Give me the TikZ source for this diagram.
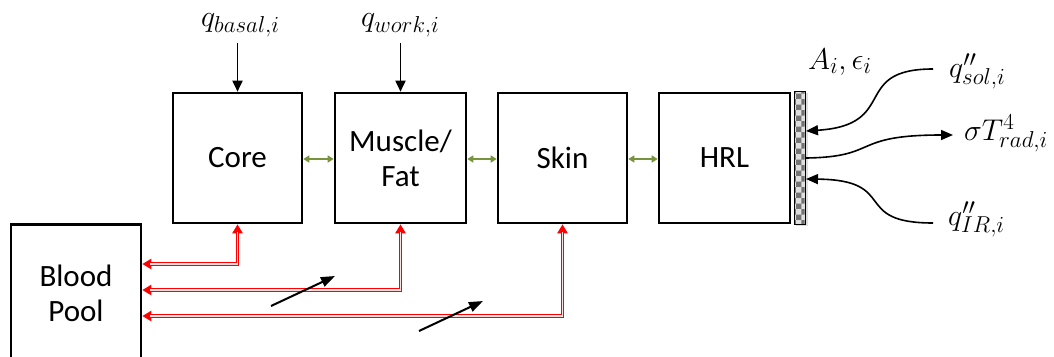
\RequirePackage{fix-cm}
\documentclass[tikz,border=0pt]{standalone}
\usepackage{fontspec}
\setmainfont{Carlito}
\DeclareMathSizes{30}{30}{23}{18}
\usetikzlibrary{arrows.meta,patterns}
\definecolor{flowgreen}{RGB}{119,147,60}
\definecolor{bloodred}{RGB}{255,0,0}
\definecolor{bloodcore}{RGB}{255,225,225}
\begin{document}
\begin{tikzpicture}[x=1pt,y=-1pt,
  block/.style={draw, line width=2.6pt, minimum height=130pt, align=center,
    inner sep=0pt, font=\fontsize{31}{35}\selectfont},
  lbl/.style={inner sep=0pt, anchor=base west, font=\fontsize{30}{36}\selectfont},
  feed/.style={line width=1.8pt, -{Triangle[width=10pt,length=11pt]}},
  flux/.style={line width=1.6pt, -{Triangle[width=10pt,length=12pt]}},
  xchg/.style={draw=flowgreen, line width=1.8pt,
    {Triangle[width=7pt,length=6pt]}-{Triangle[width=7pt,length=6pt]}},
  bloodout/.style={draw=bloodred, line width=3.4pt,
    {Triangle[width=10pt,length=9pt]}-{Triangle[width=10pt,length=9pt]}},
  bloodin/.style={draw=bloodcore, line width=1.1pt, shorten <=8pt, shorten >=8pt},
  ramp/.style={line width=2pt, -{Triangle[width=10pt,length=14pt]}},
]
\useasboundingbox (0,0) rectangle (1054,356);

% compartments
\node[block, minimum width=129pt] (core)   at (237.5,158) {Core};
\node[block, minimum width=131pt] (muscle) at (400.5,158) {Muscle/\\Fat};
\node[block, minimum width=129pt] (skin)   at (562.5,158) {Skin};
\node[block, minimum width=131pt] (hrl)    at (724.5,158) {HRL};
\node[block, minimum width=130pt, minimum height=138pt] (pool) at (76,293.5) {Blood\\Pool};

% surface layer
\fill[gray!50, opacity=0.5] (796,93) rectangle (808,226);
\draw[line width=0.8pt, fill=gray!25] (794,91) rectangle (805,224);
\fill[pattern=checkerboard, pattern color=gray!90!black] (794.4,91.4) rectangle (804.6,223.6);
\draw[line width=0.8pt] (794,91) rectangle (805,224);
\coordinate (surfsol) at (806,131);
\coordinate (surfrad) at (806,158);
\coordinate (surfir)  at (806,179);

% heat generation inputs
\node[lbl] (qbasal) at (201,27) {$q_{basal,i}$};
\node[lbl] (qwork)  at (361,27) {$q_{work,i}$};
\draw[feed] (core.north |- 0,43) -- (core.north);
\draw[feed] (muscle.north |- 0,43) -- (muscle.north);

% conduction between layers
\draw[xchg] (core.east |- 0,159) -- (muscle.west |- 0,159);
\draw[xchg] (muscle.east |- 0,159) -- (skin.west |- 0,159);
\draw[xchg] (skin.east |- 0,159) -- (hrl.west |- 0,159);

% blood circulation: pool to each compartment
\foreach \t/\y in {core/264, muscle/290, skin/316} {
  \draw[bloodout] (pool.east |- 0,\y) -| (\t.south);
  \draw[bloodin]  (pool.east |- 0,\y) -| (\t.south);
}

% rising trend arrows
\coordinate (r1a) at (271,306);
\coordinate (r1b) at (335,276);
\coordinate (r2a) at (419,331);
\coordinate (r2b) at (483,301);
\draw[ramp] (r1a) -- (r1b);
\draw[ramp] (r2a) -- (r2b);

% surface radiation
\node[lbl] (surf) at (808,69) {$A_i,\epsilon_i$};
\node[lbl] (qsol) at (949,77) {$q''_{sol,i}$};
\node[lbl] (qrad) at (964,140) {$\sigma T^{4}_{rad,i}$};
\node[lbl] (qir)  at (948,225) {$q''_{IR,i}$};
\draw[flux] (933,69) .. controls (850,69) and (900,125) .. (surfsol);
\draw[flux] (surfrad) .. controls (880,157) and (850,135) .. (953,135);
\draw[flux] (933,223) .. controls (850,223) and (900,180) .. (surfir);
\end{tikzpicture}
\end{document}
